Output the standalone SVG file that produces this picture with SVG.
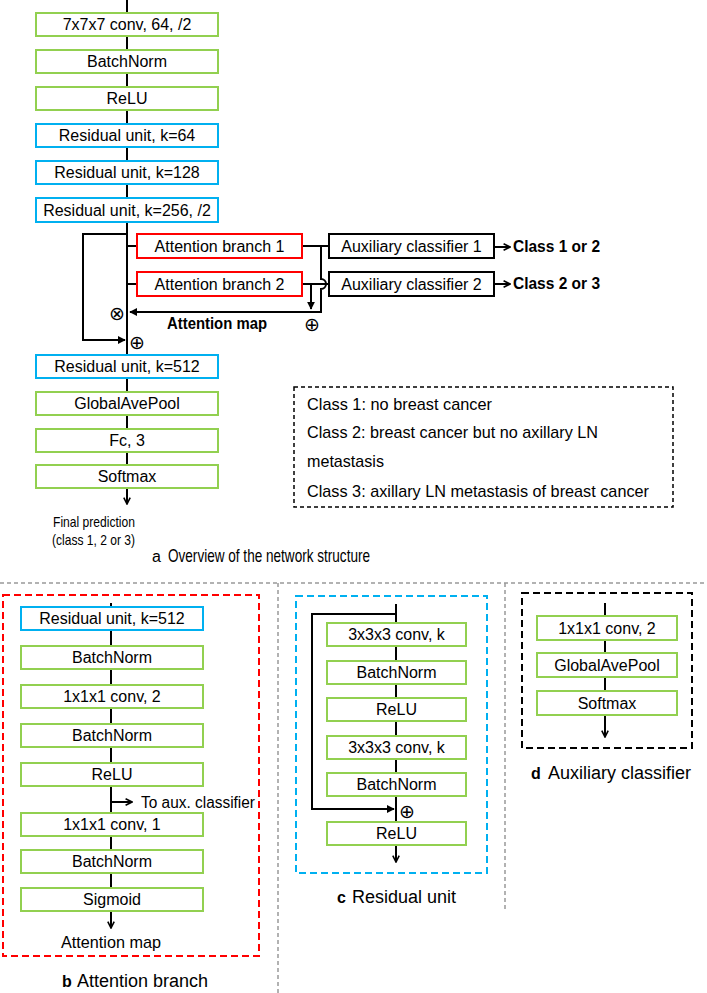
<svg xmlns="http://www.w3.org/2000/svg" width="707" height="993" viewBox="0 0 707 993">
<style>
text{font-family:"Liberation Sans",Arial,sans-serif;fill:#000}
.lbl{font-size:16px;text-anchor:middle}
.g{fill:#fff;stroke:#92D050;stroke-width:2}
.b{fill:#fff;stroke:#00B0F0;stroke-width:2}
.r{fill:#fff;stroke:#FF0000;stroke-width:2}
.k{fill:#fff;stroke:#000;stroke-width:2}
.ln{fill:none;stroke:#000;stroke-width:2}
.sym{font-family:"DejaVu Sans",sans-serif;font-size:19px;text-anchor:middle}
.cap{font-size:18px}
.leg{font-size:17px}
</style>
<defs>
<marker id="tri" viewBox="0 0 10 10" refX="9" refY="5" markerWidth="4" markerHeight="4" orient="auto" markerUnits="strokeWidth">
<path d="M0,0 L10,5 L0,10 z" fill="#000"/>
</marker>
<marker id="chev" viewBox="0 0 10 10" refX="9" refY="5" markerWidth="4" markerHeight="4" orient="auto" markerUnits="strokeWidth">
<path d="M1,1 L9,5 L1,9" fill="none" stroke="#000" stroke-width="2"/>
</marker>
</defs>
<rect width="707" height="993" fill="#fff"/>

<g id="connectors">
<path class="ln" d="M127,0 V355 M127,378 V465"/>
<path class="ln" d="M127,488 V504" marker-end="url(#chev)"/>
<path class="ln" d="M127,246 H137 M127,284 H137"/>
<path class="ln" d="M127,234 H83 V340 H125" marker-end="url(#tri)"/>
<path class="ln" d="M302,246 H329 M302,284 H329"/>
<path class="ln" d="M321,246 V279 A5,5 0 0 1 321,289 V312 H130" marker-end="url(#tri)"/>
<path class="ln" d="M311,284 V309" marker-end="url(#tri)"/>
<path class="ln" d="M494,247 H510" marker-end="url(#chev)"/>
<path class="ln" d="M494,284 H510" marker-end="url(#chev)"/>
<path class="ln" d="M111,603 V888"/>
<path class="ln" d="M111,911 V928" marker-end="url(#chev)"/>
<path class="ln" d="M111,802 H132" marker-end="url(#chev)"/>
<path class="ln" d="M396,604 V822"/>
<path class="ln" d="M396,845 V862" marker-end="url(#chev)"/>
<path class="ln" d="M396,614 H312 V809 H394" marker-end="url(#tri)"/>
<path class="ln" d="M605,603 V691"/>
<path class="ln" d="M605,715 V737" marker-end="url(#chev)"/>
</g>

<g id="separators" fill="none" stroke="#999" stroke-width="1.5" stroke-dasharray="4,3">
<path d="M0,583 H707 M278,583 V993 M505,583 V912"/>
</g>

<g id="panel-a">
<g id="a-conv7"><rect class="g" x="36" y="13" width="182" height="23"/><text class="lbl" x="127" y="30">7x7x7 conv, 64, /2</text></g>
<g id="a-bn"><rect class="g" x="36" y="50" width="182" height="23"/><text class="lbl" x="127" y="67">BatchNorm</text></g>
<g id="a-relu"><rect class="g" x="36" y="87" width="182" height="23"/><text class="lbl" x="127" y="104">ReLU</text></g>
<g id="a-res64"><rect class="b" x="36" y="124" width="182" height="23"/><text class="lbl" x="127" y="141">Residual unit, k=64</text></g>
<g id="a-res128"><rect class="b" x="36" y="161" width="182" height="23"/><text class="lbl" x="127" y="178">Residual unit, k=128</text></g>
<g id="a-res256"><rect class="b" x="36" y="198" width="182" height="24"/><text class="lbl" x="127" y="216">Residual unit, k=256, /2</text></g>
<g id="a-att1"><rect class="r" x="137" y="234" width="165" height="24"/><text class="lbl" x="219.5" y="252">Attention branch 1</text></g>
<g id="a-att2"><rect class="r" x="137" y="272" width="165" height="24"/><text class="lbl" x="219.5" y="290">Attention branch 2</text></g>
<g id="a-aux1"><rect class="k" x="329" y="234" width="165" height="24"/><text class="lbl" x="411.5" y="252">Auxiliary classifier 1</text></g>
<g id="a-aux2"><rect class="k" x="329" y="272" width="165" height="24"/><text class="lbl" x="411.5" y="290">Auxiliary classifier 2</text></g>
<text x="513" y="252" style="font-size:16px;font-weight:bold" textLength="87" lengthAdjust="spacingAndGlyphs">Class 1 or 2</text>
<text x="513" y="289" style="font-size:16px;font-weight:bold" textLength="87" lengthAdjust="spacingAndGlyphs">Class 2 or 3</text>
<text x="167" y="329" style="font-size:16px;font-weight:bold" textLength="100" lengthAdjust="spacingAndGlyphs">Attention map</text>
<text class="sym" x="117" y="320">⊗</text>
<text class="sym" x="312" y="331">⊕</text>
<text class="sym" x="137" y="349">⊕</text>
<g id="a-res512"><rect class="b" x="36" y="355" width="182" height="23"/><text class="lbl" x="127" y="372">Residual unit, k=512</text></g>
<g id="a-gap"><rect class="g" x="36" y="392" width="182" height="23"/><text class="lbl" x="127" y="409">GlobalAvePool</text></g>
<g id="a-fc"><rect class="g" x="36" y="429" width="182" height="23"/><text class="lbl" x="127" y="446">Fc, 3</text></g>
<g id="a-softmax"><rect class="g" x="36" y="465" width="182" height="23"/><text class="lbl" x="127" y="482">Softmax</text></g>
<text x="53" y="527" style="font-size:15px" textLength="82" lengthAdjust="spacingAndGlyphs">Final prediction</text>
<text x="52" y="545" style="font-size:15px" textLength="83" lengthAdjust="spacingAndGlyphs">(class 1, 2 or 3)</text>
<g id="legend">
<rect x="294" y="387" width="379" height="120" fill="none" stroke="#000" stroke-width="1.5" stroke-dasharray="4,3"/>
<text x="307" y="410" class="leg" textLength="185" lengthAdjust="spacingAndGlyphs">Class 1: no breast cancer</text>
<text x="307" y="438" class="leg" textLength="291" lengthAdjust="spacingAndGlyphs">Class 2: breast cancer but no axillary LN</text>
<text x="307" y="467" class="leg" textLength="77" lengthAdjust="spacingAndGlyphs">metastasis</text>
<text x="307" y="497" class="leg" textLength="342" lengthAdjust="spacingAndGlyphs">Class 3: axillary LN metastasis of breast cancer</text>
</g>
<text x="152" y="562" style="font-size:16px">a</text>
<text x="168" y="562" style="font-size:19px" textLength="202" lengthAdjust="spacingAndGlyphs">Overview of the network structure</text>
</g>

<g id="panel-b">
<rect x="3" y="595" width="256" height="361" fill="none" stroke="#FF0000" stroke-width="2" stroke-dasharray="7,4"/>
<g id="b-res512"><rect class="b" x="21" y="607" width="182" height="23"/><text class="lbl" x="112" y="624">Residual unit, k=512</text></g>
<g id="b-bn1"><rect class="g" x="21" y="646" width="182" height="23"/><text class="lbl" x="112" y="663">BatchNorm</text></g>
<g id="b-conv2"><rect class="g" x="21" y="685" width="182" height="23"/><text class="lbl" x="112" y="702">1x1x1 conv, 2</text></g>
<g id="b-bn2"><rect class="g" x="21" y="724" width="182" height="23"/><text class="lbl" x="112" y="741">BatchNorm</text></g>
<g id="b-relu"><rect class="g" x="21" y="763" width="182" height="23"/><text class="lbl" x="112" y="780">ReLU</text></g>
<text x="141" y="808" style="font-size:16px" textLength="114" lengthAdjust="spacingAndGlyphs">To aux. classifier</text>
<g id="b-conv1"><rect class="g" x="21" y="813" width="182" height="23"/><text class="lbl" x="112" y="830">1x1x1 conv, 1</text></g>
<g id="b-bn3"><rect class="g" x="21" y="850" width="182" height="23"/><text class="lbl" x="112" y="867">BatchNorm</text></g>
<g id="b-sig"><rect class="g" x="21" y="888" width="182" height="23"/><text class="lbl" x="112" y="905">Sigmoid</text></g>
<text x="61" y="948" style="font-size:17px" textLength="100" lengthAdjust="spacingAndGlyphs">Attention map</text>
<text x="62" y="987" style="font-size:16px;font-weight:bold">b</text>
<text x="77" y="987" class="cap">Attention branch</text>
</g>

<g id="panel-c">
<rect x="296" y="596" width="191" height="277" fill="none" stroke="#00B0F0" stroke-width="2" stroke-dasharray="7,4"/>
<g id="c-conv1"><rect class="g" x="327" y="623" width="139" height="23"/><text class="lbl" x="396.5" y="640">3x3x3 conv, k</text></g>
<g id="c-bn1"><rect class="g" x="327" y="661" width="139" height="23"/><text class="lbl" x="396.5" y="678">BatchNorm</text></g>
<g id="c-relu1"><rect class="g" x="327" y="698" width="139" height="23"/><text class="lbl" x="396.5" y="715">ReLU</text></g>
<g id="c-conv2"><rect class="g" x="327" y="736" width="139" height="23"/><text class="lbl" x="396.5" y="753">3x3x3 conv, k</text></g>
<g id="c-bn2"><rect class="g" x="327" y="773" width="139" height="23"/><text class="lbl" x="396.5" y="790">BatchNorm</text></g>
<text class="sym" x="407" y="818">⊕</text>
<g id="c-relu2"><rect class="g" x="327" y="822" width="139" height="23"/><text class="lbl" x="396.5" y="839">ReLU</text></g>
<text x="337" y="903" style="font-size:16px;font-weight:bold">c</text>
<text x="352" y="903" class="cap">Residual unit</text>
</g>

<g id="panel-d">
<rect x="522" y="593" width="170" height="155" fill="none" stroke="#000" stroke-width="2" stroke-dasharray="7,4"/>
<g id="d-conv"><rect class="g" x="537" y="616" width="140" height="24"/><text class="lbl" x="607" y="634">1x1x1 conv, 2</text></g>
<g id="d-gap"><rect class="g" x="537" y="653" width="140" height="24"/><text class="lbl" x="607" y="671">GlobalAvePool</text></g>
<g id="d-softmax"><rect class="g" x="537" y="691" width="140" height="24"/><text class="lbl" x="607" y="709">Softmax</text></g>
<text x="531" y="779" style="font-size:16px;font-weight:bold">d</text>
<text x="548" y="779" class="cap">Auxiliary classifier</text>
</g>
</svg>
